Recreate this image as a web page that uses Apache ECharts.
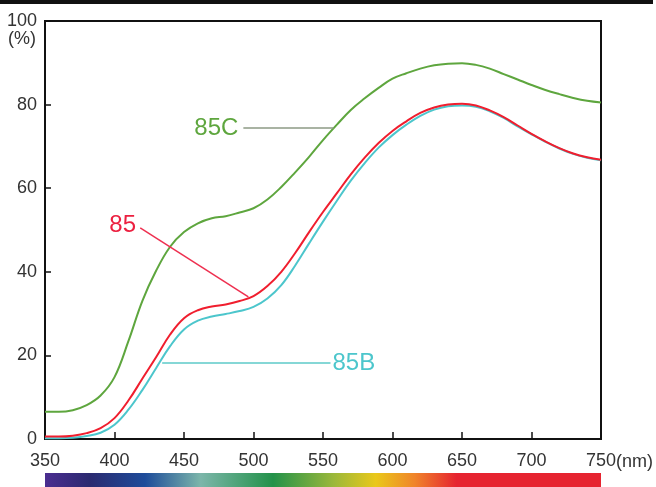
<!DOCTYPE html>
<html><head><meta charset="utf-8">
<script src="https://cdn.jsdelivr.net/npm/echarts@6/dist/echarts.min.js"></script>
<style>html,body{margin:0;padding:0;background:#fff}#c{width:656px;height:487px}</style>
</head><body><div id="c"></div>
<script>
const wavelengths = [350,360,370,380,390,400,410,420,430,440,450,460,470,480,490,500,510,520,530,540,550,560,570,580,590,600,610,620,630,640,650,660,670,680,690,700,710,720,730,740,750];
const s85C = [6.5,6.5,6.9,8.1,10.4,14.8,23.4,33.0,40.3,46.0,49.5,51.6,52.8,53.3,54.2,55.2,57.3,60.3,63.8,67.5,71.5,75.2,78.7,81.5,84.0,86.2,87.5,88.6,89.4,89.8,89.9,89.5,88.6,87.3,86.0,84.7,83.5,82.5,81.6,80.9,80.5];
const s85 = [0.6,0.6,0.8,1.4,2.6,5.0,9.2,14.4,19.6,25.0,28.9,30.8,31.7,32.2,33.0,34.2,36.6,40.0,44.5,49.5,54.3,58.8,63.3,67.3,70.8,73.7,76.0,78.0,79.3,80.0,80.2,79.8,78.6,77.0,75.0,73.0,71.2,69.6,68.3,67.4,66.8];
const s85B = [0.2,0.2,0.3,0.7,1.5,3.4,7.0,11.7,17.0,22.2,26.2,28.3,29.3,29.9,30.6,31.6,33.6,36.8,41.5,46.8,52.0,57.0,61.8,66.0,69.7,72.7,75.2,77.3,78.8,79.6,79.8,79.5,78.4,76.8,74.8,72.9,71.1,69.5,68.2,67.3,66.7];
const seriesNames = ['85C','85','85B'];
const xTicks = {min:350, max:750, interval:50};
const yTicks = {min:0, max:100, interval:20};
// leader lines [start, end] in data coords
const leader85C = [[492.7,74.4],[557.6,74.4]];
const leader85 = [[418.5,50.5],[496.3,34.0]];
const leader85B = [[434.3,18.2],[555.4,18.2]];

const FONT = 'Liberation Sans, Arial, sans-serif';
const pair = (xs, ys) => xs.map((x,i)=>[x, ys[i]]);
const chart = echarts.init(document.getElementById('c'), null, {renderer:'canvas'});

function mk(data) { return [[{coord:data[0]},{coord:data[1]}]]; }

const option = {
  animation:false,
  backgroundColor:'#fff',
  grid:{left:45, right:55, top:21, bottom:48, show:true, borderColor:'#111', borderWidth:2, containLabel:false, outerBoundsMode:'none'},
  xAxis:{type:'value', min:xTicks.min, max:xTicks.max, interval:xTicks.interval,
    name:'(nm)', nameLocation:'end', nameGap:15, nameMoveOverlap:false,
    nameTextStyle:{fontFamily:FONT, fontSize:18, color:'#333', verticalAlign:'top', padding:[14,0,0,0]},
    axisLine:{show:true, onZero:false, lineStyle:{color:'#111', width:2}},
    axisTick:{show:true, inside:true, length:7, lineStyle:{color:'#111', width:1.5}},
    axisLabel:{fontFamily:FONT, fontSize:18, color:'#333', margin:13},
    splitLine:{show:false}},
  yAxis:{type:'value', min:yTicks.min, max:yTicks.max, interval:yTicks.interval,
    name:'(%)', nameLocation:'end', nameGap:-27, nameMoveOverlap:false,
    nameTextStyle:{fontFamily:FONT, fontSize:18, color:'#333', align:'right', padding:[0,9,0,0]},
    axisLine:{show:true, lineStyle:{color:'#111', width:2}},
    axisTick:{show:true, inside:true, length:6, lineStyle:{color:'#111', width:1.5}},
    axisLabel:{fontFamily:FONT, fontSize:18, color:'#333', margin:8},
    splitLine:{show:false}},
  series:[
    {name:seriesNames[0], type:'line', smooth:0.4, symbol:'none', data:pair(wavelengths,s85C),
     lineStyle:{color:'#5ea63e', width:2}, z:3,
     markLine:{silent:true, symbol:'none', data:mk(leader85C),
       lineStyle:{color:'#8c9a84', width:1.5, type:'solid'},
       label:{show:true, position:'start', distance:5, formatter:seriesNames[0], fontFamily:FONT, fontSize:24, color:'#5ea63e'}}},
    {name:seriesNames[2], type:'line', smooth:0.4, symbol:'none', data:pair(wavelengths,s85B),
     lineStyle:{color:'#4cc6cc', width:2}, z:3,
     markLine:{silent:true, symbol:'none', data:mk(leader85B),
       lineStyle:{color:'#5ccac8', width:1.5, type:'solid'},
       label:{show:true, position:'end', distance:2, formatter:seriesNames[2], fontFamily:FONT, fontSize:24, color:'#4cc6cc'}}},
    {name:seriesNames[1], type:'line', smooth:0.4, symbol:'none', data:pair(wavelengths,s85),
     lineStyle:{color:'#f01e2e', width:2}, z:4,
     markLine:{silent:true, symbol:'none', data:mk(leader85),
       lineStyle:{color:'#ee3050', width:1.5, type:'solid'},
       label:{show:true, position:'start', distance:5, formatter:seriesNames[1], fontFamily:FONT, fontSize:24, color:'#ec2040'}}}
  ]
};
chart.setOption(option);

const x0 = chart.convertToPixel({xAxisIndex:0}, xTicks.min);
const x1 = chart.convertToPixel({xAxisIndex:0}, xTicks.max);
chart.setOption({graphic:[
  {type:'rect', left:0, top:0, shape:{x:0,y:0,width:653,height:4}, style:{fill:'#111'}},
  {type:'rect', shape:{x:x0, y:473, width:x1-x0, height:14},
   style:{fill:new echarts.graphic.LinearGradient(0,0,1,0,[
     {offset:0, color:'#4b2d90'},
     {offset:0.08, color:'#2b2a70'},
     {offset:0.18, color:'#1e4c9a'},
     {offset:0.28, color:'#7cb6aa'},
     {offset:0.41, color:'#23924a'},
     {offset:0.52, color:'#9cb83a'},
     {offset:0.595, color:'#eac81a'},
     {offset:0.665, color:'#f0842a'},
     {offset:0.74, color:'#e62430'},
     {offset:1, color:'#e62430'}])}}
]});
</script></body></html>
